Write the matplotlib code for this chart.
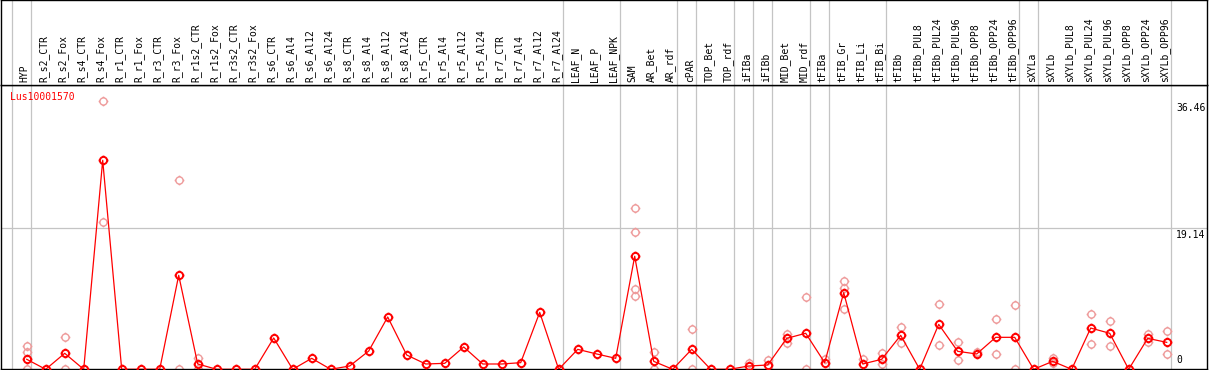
import numpy as np
import matplotlib
matplotlib.use("Agg")
import matplotlib.pyplot as plt
from matplotlib.path import Path

# データ
categories = [
    "HYP", "R_s2_CTR", "R_s2_Fox", "R_s4_CTR", "R_s4_Fox", "R_r1_CTR", "R_r1_Fox",
    "R_r3_CTR", "R_r3_Fox", "R_r1s2_CTR", "R_r1s2_Fox", "R_r3s2_CTR", "R_r3s2_Fox",
    "R_s6_CTR", "R_s6_Al4", "R_s6_Al12", "R_s6_Al24", "R_s8_CTR", "R_s8_Al4",
    "R_s8_Al12", "R_s8_Al24", "R_r5_CTR", "R_r5_Al4", "R_r5_Al12", "R_r5_Al24",
    "R_r7_CTR", "R_r7_Al4", "R_r7_Al12", "R_r7_Al24", "LEAF_N", "LEAF_P", "LEAF_NPK",
    "SAM", "AR_Bet", "AR_rdf", "cPAR", "TOP_Bet", "TOP_rdf", "iFIBa", "iFIBb",
    "MID_Bet", "MID_rdf", "tFIBa", "tFIB_Gr", "tFIB_Li", "tFIB_Bi", "tFIBb",
    "tFIBb_PUL8", "tFIBb_PUL24", "tFIBb_PUL96", "tFIBb_OPP8", "tFIBb_OPP24",
    "tFIBb_OPP96", "sXYLa", "sXYLb", "sXYLb_PUL8", "sXYLb_PUL24", "sXYLb_PUL96",
    "sXYLb_OPP8", "sXYLb_OPP24", "sXYLb_OPP96",
]

# 平均値
means = [
    1.36, 0, 2.17, 0, 28.37, 0, 0, 0, 12.76, 0.72, 0, 0, 0,
    4.25, 0, 1.49, 0, 0.45, 2.48, 7.1, 1.94, 0.72, 0.81, 3.03, 0.72,
    0.72, 0.9, 7.73, 0, 2.71, 2.08, 1.49,
    15.34, 1.08, 0, 2.71, 0, 0, 0.45, 0.58,
    4.2, 4.89, 0.9, 10.4, 0.72, 1.36, 4.61,
    0, 6.1, 2.44, 2.08, 4.34, 4.34,
    0, 1.08, 0, 5.6, 4.89, 0, 4.2, 3.66,
]

# 反復測定値
replicates = [
    [3.16, 2.4, 0], [], [4.34, 0], [], [36.46, 19.95], [], [], [], [25.65, 0],
    [1.49, 0], [], [], [],
    [], [], [], [], [], [], [], [], [], [], [], [],
    [], [], [], [], [], [], [],
    [21.85, 18.6, 10.9, 10.0], [2.3, 0], [], [5.47, 0], [], [], [0.9], [1.22],
    [4.79, 3.53], [9.81, 0], [1.4], [11.98, 11.0, 8.14], [1.4], [2.26, 0.72], [5.7, 3.61],
    [], [8.82, 3.26], [3.66, 1.22], [2.39], [6.83, 2.08], [8.69, 0],
    [], [1.49, 0.81], [], [7.46, 3.48], [6.51, 3.16], [], [4.79, 3.66], [5.2, 2.08],
]

# グループの大きさ
group_sizes = [1, 28, 3, 3, 1, 2, 1, 1, 2, 1, 3, 7, 1, 7]

ytick_vals = [36.46, 19.14, 0]
gene_name = "Lus10001570"

W, H = 1209, 370
FONT = "DejaVu Sans Mono"

# マーカー: 円 + 外側の短い線
circ = Path.unit_circle()
ticks = Path(
    [(0, 1), (0, 1.35), (0, -1), (0, -1.35), (1, 0), (1.35, 0), (-1, 0), (-1.35, 0)],
    [Path.MOVETO, Path.LINETO] * 4,
)
marker = Path.make_compound_path(circ, ticks)

fig = plt.figure(figsize=(W / 100, H / 100), dpi=100)

plot_top = 85
plot_bot = 369.3
ax = fig.add_axes([1 / W, (H - plot_bot) / H, 1206 / W, (plot_bot - plot_top) / H])
hdr = fig.add_axes([1 / W, (H - plot_top) / H, 1206 / W, plot_top / H - 0.001], sharex=ax)

x = np.arange(len(categories))
px_per_cat = 19.0
xmin = (1 - 26.7) / px_per_cat
xmax = xmin + 1206 / px_per_cat
ax.set_xlim(xmin, xmax)
ymax = (plot_bot - plot_top) / (141.0 / 19.14)
ax.set_ylim(0, ymax)
hdr.set_ylim(0, 1)

for a in (ax, hdr):
    a.set_xticks([])
    a.set_yticks([])
    for s in a.spines.values():
        s.set_color("black")
        s.set_linewidth(1.0)

# 縦の区切り線
bounds = np.cumsum([0] + group_sizes) - 1 + 0.21
for b in bounds:
    ax.axvline(b, color="#c4c4c4", lw=0.9, zorder=0)
    hdr.axvline(b, color="#c4c4c4", lw=0.9, zorder=0)

ax.axhline(ytick_vals[1], color="#c4c4c4", lw=0.9, zorder=0)

# 反復測定値
rx, ry = [], []
for i, vals in enumerate(replicates):
    for v in vals:
        rx.append(i)
        ry.append(v)
ax.plot(rx, ry, linestyle="none", marker=marker, markersize=7,
        markerfacecolor="none", markeredgecolor="#ee9a9a", markeredgewidth=1.0, zorder=2)

# 平均値
ax.plot(x, means, color="red", lw=0.9, marker=marker, markersize=7,
        markerfacecolor="none", markeredgecolor="red", markeredgewidth=1.4, zorder=3)

# ラベル
for i, name in enumerate(categories):
    hdr.text(i - 0.1, 0.03, name, rotation=90, ha="center", va="bottom",
             fontsize=7, family=FONT, color="black")

for v in ytick_vals:
    if v == 0:
        ax.annotate("0", xy=(1, v), xycoords=("axes fraction", "data"),
                    xytext=(-31, 4), textcoords="offset pixels",
                    ha="left", va="bottom", fontsize=7, family=FONT)
    else:
        ax.annotate(f"{v:.2f}", xy=(1, v), xycoords=("axes fraction", "data"),
                    xytext=(-31, -2), textcoords="offset pixels",
                    ha="left", va="top", fontsize=7, family=FONT)

fig.text(10 / W, 1 - 97 / H, gene_name, color="red", fontsize=7, family=FONT,
         ha="left", va="center")

fig.savefig("out.png", dpi=100)
